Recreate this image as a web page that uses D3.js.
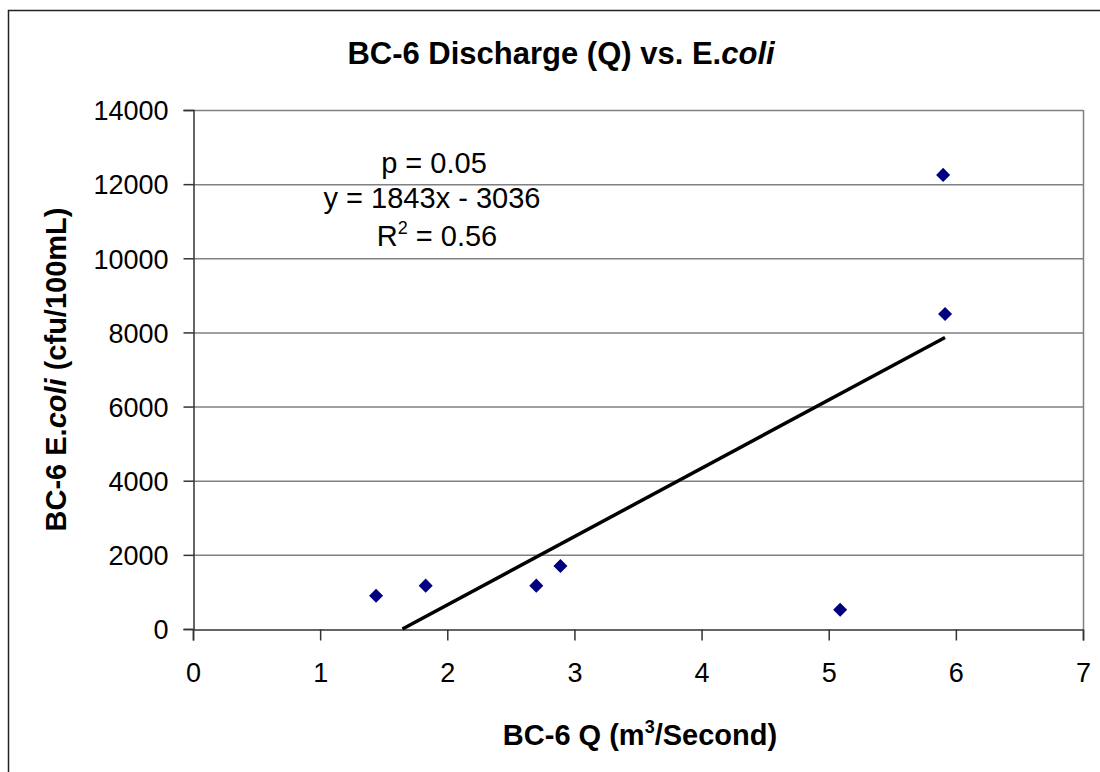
<!DOCTYPE html>
<html>
<head>
<meta charset="utf-8">
<script src="https://cdn.jsdelivr.net/npm/d3@7"></script>
<style>
    body { margin: 0; background: #fff; }
    svg text { font-family: "Liberation Sans", Arial, sans-serif; fill: #000; }
</style>
</head>
<body>
<div id="chart"></div>
<script>
// Data
const dischargeQ = [1.44, 1.83, 2.70, 2.89, 5.09, 5.90, 5.915];
const ecoliCount = [900, 1170, 1170, 1700, 520, 12250, 8500];
const xTicks = [0, 1, 2, 3, 4, 5, 6, 7];
const yTicks = [0, 2000, 4000, 6000, 8000, 10000, 12000, 14000];
const trendSlope = 1843;
const trendIntercept = -3036;

const W = 1100, H = 772;
const plot = { left: 193, right: 1083, top: 110, bottom: 629 };

const svg = d3.select('#chart').append('svg')
    .attr('width', W)
    .attr('height', H);

// outer chart border (runs off the right/bottom edge)
svg.append('rect')
    .attr('x', 8.5).attr('y', 10.5)
    .attr('width', W).attr('height', H)
    .attr('fill', '#fff')
    .attr('stroke', '#222')
    .attr('stroke-width', 1.5);

const x = d3.scaleLinear().domain([0, 7]).range([plot.left, plot.right]);
const y = d3.scaleLinear().domain([0, 14000]).range([plot.bottom, plot.top]);

// gridlines
svg.append('g')
    .selectAll('line')
    .data(yTicks.slice(1))
    .enter().append('line')
    .attr('x1', plot.left).attr('x2', plot.right)
    .attr('y1', d => y(d) + 0.5).attr('y2', d => y(d) + 0.5)
    .attr('stroke', '#808080')
    .attr('stroke-width', 1.5);

// plot area border, right side
svg.append('line')
    .attr('x1', plot.right + 0.5).attr('x2', plot.right + 0.5)
    .attr('y1', plot.top).attr('y2', plot.bottom)
    .attr('stroke', '#808080')
    .attr('stroke-width', 1.5);

// axes
const xAxis = d3.axisBottom(x).tickValues(xTicks).tickSize(11).tickPadding(22).tickFormat(d3.format('d'));
const yAxis = d3.axisLeft(y).tickValues(yTicks).tickSize(10).tickPadding(15).tickFormat(d => d);

const gx = svg.append('g')
    .attr('transform', `translate(0,${plot.bottom + 0.5})`)
    .call(xAxis);
const gy = svg.append('g')
    .attr('transform', `translate(${plot.left + 0.5},0)`)
    .call(yAxis);

[gx, gy].forEach(g => {
    g.select('.domain').attr('stroke', '#333').attr('stroke-width', 1.5);
    g.selectAll('.tick line').attr('stroke', '#333').attr('stroke-width', 1.5);
    g.selectAll('.tick text')
        .style('font-size', '27px')
        .style('font-family', '"Liberation Sans", Arial, sans-serif')
        .attr('fill', '#000');
});
gy.selectAll('.tick text').attr('dy', '0.36em');

// trend line: from y = 0 up to the largest x
const xStart = -trendIntercept / trendSlope;
const xEnd = d3.max(dischargeQ);
svg.append('line')
    .attr('x1', x(xStart)).attr('y1', y(trendSlope * xStart + trendIntercept))
    .attr('x2', x(xEnd)).attr('y2', y(trendSlope * xEnd + trendIntercept))
    .attr('stroke', '#000')
    .attr('stroke-width', 3.5);

// data points as diamonds
const diamond = d3.symbol().type(d3.symbolDiamond2).size(125);
svg.append('g')
    .selectAll('path')
    .data(dischargeQ.map((q, i) => [q, ecoliCount[i]]))
    .enter().append('path')
    .attr('d', diamond)
    .attr('transform', d => `translate(${x(d[0])},${y(d[1])})`)
    .attr('fill', '#000080');

// title
const title = svg.append('text')
    .attr('x', 561).attr('y', 64)
    .attr('text-anchor', 'middle')
    .style('font-size', '31px')
    .style('font-weight', 'bold');
title.append('tspan').text('BC-6 Discharge (Q) vs. E.');
title.append('tspan').style('font-style', 'italic').text('coli');

// regression annotation
const ann = svg.append('g').style('font-size', '29px');
ann.append('text').attr('x', 434).attr('y', 173).attr('text-anchor', 'middle').text('p = 0.05');
ann.append('text').attr('x', 432).attr('y', 208).attr('text-anchor', 'middle').text('y = 1843x - 3036');
const r2 = ann.append('text').attr('x', 437).attr('y', 246).attr('text-anchor', 'middle');
r2.append('tspan').text('R');
r2.append('tspan').attr('dy', -12).style('font-size', '18px').text('2');
r2.append('tspan').attr('dy', 12).text(' = 0.56');

// axis titles
const xt = svg.append('text')
    .attr('x', 640).attr('y', 745)
    .attr('text-anchor', 'middle')
    .style('font-size', '29px')
    .style('font-weight', 'bold');
xt.append('tspan').text('BC-6 Q (m');
xt.append('tspan').attr('dy', -12).style('font-size', '18px').text('3');
xt.append('tspan').attr('dy', 12).text('/Second)');

const yt = svg.append('text')
    .attr('transform', `translate(66,${(plot.top + plot.bottom) / 2}) rotate(-90)`)
    .attr('text-anchor', 'middle')
    .style('font-size', '29px')
    .style('font-weight', 'bold');
yt.append('tspan').text('BC-6 E.');
yt.append('tspan').style('font-style', 'italic').text('coli');
yt.append('tspan').text(' (cfu/100mL)');
</script>
</body>
</html>
